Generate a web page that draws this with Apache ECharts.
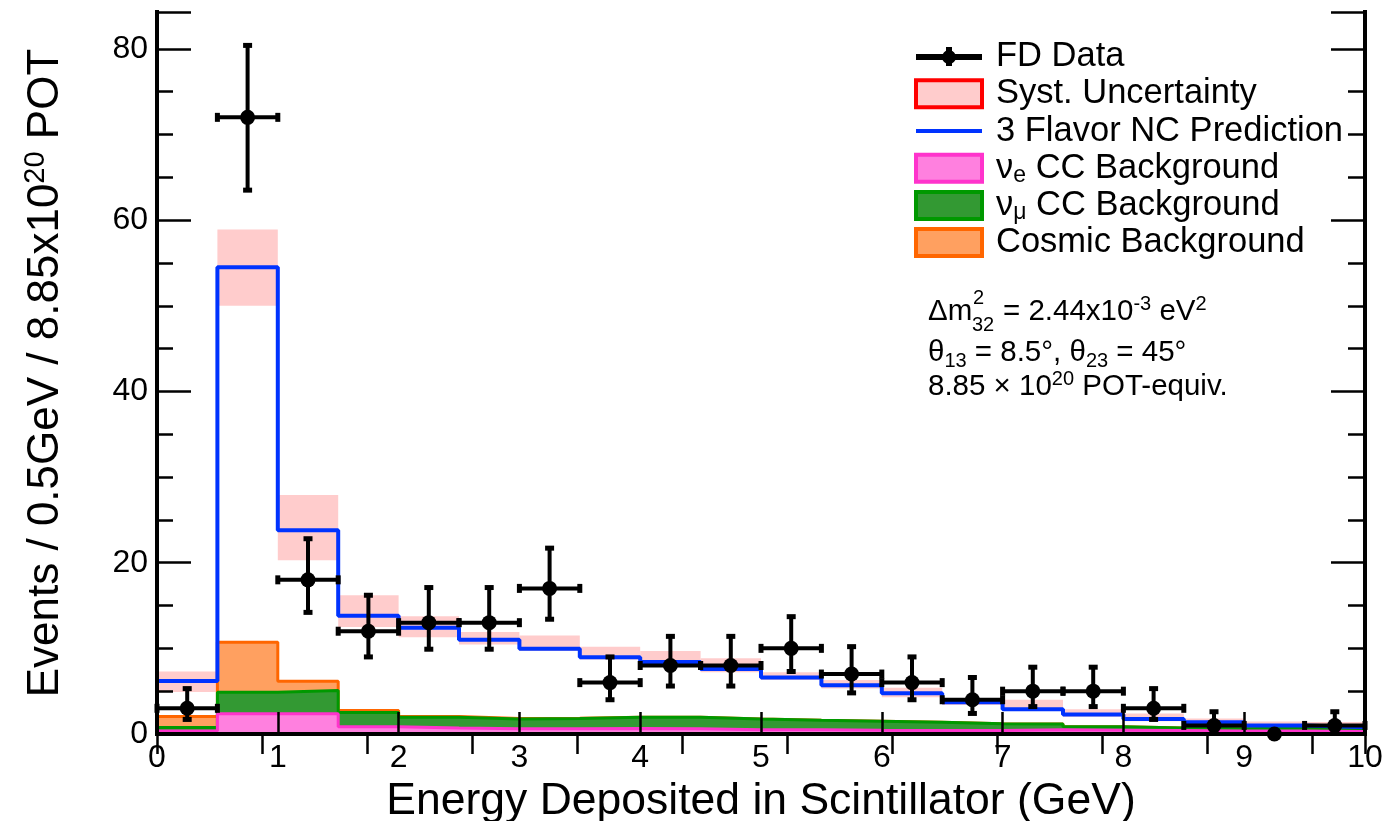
<!DOCTYPE html>
<html><head><meta charset="utf-8">
<script src="https://cdn.jsdelivr.net/npm/echarts@6/dist/echarts.min.js"></script>
<style>html,body{margin:0;padding:0;background:#fff}#chart{width:1387px;height:821px}</style>
</head><body><div id="chart"></div>
<script>
// ---------------- data ----------------
const binEdges = [0,0.5,1,1.5,2,2.5,3,3.5,4,4.5,5,5.5,6,6.5,7,7.5,8,8.5,9,9.5,10];
const binCenters = [0.25,0.75,1.25,1.75,2.25,2.75,3.25,3.75,4.25,4.75,5.25,5.75,6.25,6.75,7.25,7.75,8.25,8.75,9.25,9.75];
const fdData    = [3,72,18,12,13,13,17,6,8,8,10,7,6,4,5,5,3,1,0,1];
const fdErrLow  = [1.7,63.5,14.2,9.0,9.9,9.9,13.4,4.0,5.6,5.6,7.3,4.8,4.0,2.4,3.2,3.2,1.7,0.4,0,0.4];
const fdErrHigh = [5.3,80.4,22.8,16.2,17.1,17.1,21.7,9.0,11.4,11.4,13.7,10.2,9.0,6.6,7.8,7.8,5.3,2.6,0,2.6];
const fdXErr    = [0.25,0.25,0.25,0.25,0.25,0.25,0.25,0.25,0.25,0.25,0.25,0.25,0.25,0.25,0.25,0.25,0.25,0.25,0,0.25];
const ncPrediction = [6.2,54.5,23.8,13.8,12.4,11.0,9.95,8.95,8.4,7.6,6.6,5.7,4.75,3.7,2.9,2.27,1.76,1.37,0.98,0.8];
const systLow  = [4.9,50.0,20.3,12.5,11.3,10.45,9.7,8.7,7.9,7.2,6.3,5.3,4.3,3.4,2.7,2.0,1.5,1.2,0.8,0.6];
const systHigh = [7.3,58.9,27.9,16.2,13.75,11.9,11.5,10.2,9.7,8.85,7.2,6.3,5.4,4.1,4.0,2.9,2.4,1.8,1.45,1.4];
const nueCC    = [0.35,2.35,2.35,0.86,0.7,0.6,0.6,0.65,0.6,0.5,0.5,0.45,0.42,0.4,0.5,0.45,0.4,0.35,0.35,0.3];
const numuCC   = [0.4,2.52,2.72,1.64,1.25,1.16,1.2,1.3,1.35,1.25,1.1,1.05,0.95,0.8,0.68,0.41,0.3,0.25,0.35,0.2];
const cosmicBg = [1.3,5.83,1.09,0.23,0.08,0.05,0.03,0,0,0,0,0,0,0,0,0,0,0,0,0];
const xTickLabels = ['0','1','2','3','4','5','6','7','8','9','10'];
const yTickLabels = ['0','20','40','60','80'];

// ---------------- helpers ----------------
const FONT = '"Liberation Sans", Arial, Helvetica, sans-serif';
function stepData(vals){
  const d = vals.map((v,i)=>[binEdges[i], v]);
  d.push([binEdges[vals.length], vals[vals.length-1]]);
  return d;
}
const cumNue = nueCC.slice();
const cumNumu = nueCC.map((v,i)=>v+numuCC[i]);
const cumCosmic = cumNumu.map((v,i)=>v+cosmicBg[i]);
const systRows = systLow.map((lo,i)=>[binEdges[i], binEdges[i+1], lo, systHigh[i]]);
const dataRows = fdData.map((y,i)=>[binCenters[i], y, fdErrLow[i], fdErrHigh[i], fdXErr[i]]);

const YMAX = 84.3;
const tickStyle = {color:'#000', width:2.5};
const frameLine = {show:true, lineStyle:{color:'#000', width:4, cap:'square'}};

const legendLabels = {
  'FD Data': '{f|FD Data}',
  'Syst. Uncertainty': '{f|Syst. Uncertainty}',
  '3 Flavor NC Prediction': '{f|3 Flavor NC Prediction}',
  'νe CC Background': '{f|ν}{sub|e}{a| CC Background}',
  'νμ CC Background': '{f|ν}{sub|μ}{a| CC Background}',
  'Cosmic Background': '{f|Cosmic Background}'
};
const LH = 37.2;
const LFS = 34.5;
const AFS = 29.5;
const chart = echarts.init(document.getElementById('chart'), null, {renderer:'canvas'});
const option = {
  animation:false,
  backgroundColor:'#fff',
  grid:{left:157, top:12, width:1208, height:722, containLabel:false, outerBoundsMode:'none'},
  xAxis:[
    {type:'value', position:'bottom', min:0, max:10, interval:1, z:10,
     axisLine:frameLine, splitLine:{show:false},
     axisTick:{show:true, inside:true, length:22, lineStyle:tickStyle},
     axisLabel:{show:true, margin:8, color:'#000', fontFamily:FONT, fontSize:32,
       formatter:(v)=>{const i=Math.round(v); return (Math.abs(v-i)<1e-6 && xTickLabels[i]!==undefined)? xTickLabels[i] : '';}},
     name:'Energy Deposited in Scintillator (GeV)', nameLocation:'middle', nameGap:39,
     nameTextStyle:{color:'#000', fontFamily:FONT, fontSize:44.5}},
    {type:'value', position:'top', min:0, max:11.5, interval:1, z:10,
     axisLine:frameLine, splitLine:{show:false},
     axisTick:{show:true, inside:true, length:20, lineStyle:tickStyle},
     axisLabel:{show:false}}
  ],
  yAxis:[
    {type:'value', position:'left', min:0, max:YMAX, interval:5, z:10,
     axisLine:frameLine, splitLine:{show:false},
     axisTick:{show:true, inside:true, length:16, lineStyle:tickStyle},
     axisLabel:{show:true, margin:9, color:'#000', fontFamily:FONT, fontSize:32,
       formatter:(v)=>{ if (Math.abs(v/20 - Math.round(v/20))>1e-6) return ''; return yTickLabels[Math.round(v/20)] || ''; }},
     name:'{a|Events / 0.5GeV / 8.85x10}{sup|20}{a| POT}', nameLocation:'middle', nameGap:86,
     nameTextStyle:{color:'#000', fontFamily:FONT, fontSize:44,
       rich:{a:{fontFamily:FONT, fontSize:44, color:'#000', lineHeight:50},
             sup:{fontFamily:FONT, fontSize:29, color:'#000', verticalAlign:'top', lineHeight:29}}}},
    {type:'value', position:'left', min:0, max:YMAX, interval:20, z:10,
     axisLine:{show:false}, splitLine:{show:false},
     axisTick:{show:true, inside:true, length:34, lineStyle:tickStyle}, axisLabel:{show:false}},
    {type:'value', position:'right', min:0, max:YMAX, interval:5, z:10,
     axisLine:frameLine, splitLine:{show:false},
     axisTick:{show:true, inside:true, length:17, lineStyle:tickStyle}, axisLabel:{show:false}},
    {type:'value', position:'right', min:0, max:YMAX, interval:20, z:10,
     axisLine:{show:false}, splitLine:{show:false},
     axisTick:{show:true, inside:true, length:34, lineStyle:tickStyle}, axisLabel:{show:false}}
  ],
  legend:{
    orient:'vertical', left:914, top:38, itemWidth:66, itemHeight:27, itemGap:0,
    selectedMode:false, padding:0,
    formatter:(name)=>legendLabels[name] || name,
    textStyle:{color:'#000', fontFamily:FONT, fontSize:LFS, lineHeight:LH,
      rich:{
        f:{fontFamily:FONT, fontSize:LFS, color:'#000', lineHeight:LH, padding:[0,0,0,9]},
        a:{fontFamily:FONT, fontSize:LFS, color:'#000', lineHeight:LH},
        sub:{fontFamily:FONT, fontSize:23, color:'#000', verticalAlign:'bottom', lineHeight:22}
      }},
    data:[
      {name:'FD Data',
       icon:'path://M0,0L0,0ZM66,27L66,27ZM0,11L66,11L66,17L0,17ZM30,4L36,4L36,23L30,23ZM26,14A7,7 0 1 1 40,14A7,7 0 1 1 26,14Z',
       itemStyle:{color:'#000', borderWidth:0}},
      {name:'Syst. Uncertainty', icon:'rect', itemStyle:{color:'#ffcccc', borderColor:'#ff0000', borderWidth:4}},
      {name:'3 Flavor NC Prediction', icon:'path://M0,0L0,0ZM66,27L66,27ZM0,11.5L66,11.5L66,15.5L0,15.5Z',
       itemStyle:{color:'#0033ff', borderWidth:0}},
      {name:'νe CC Background', icon:'rect', itemStyle:{color:'#ff80df', borderColor:'#ff33cc', borderWidth:4}},
      {name:'νμ CC Background', icon:'rect', itemStyle:{color:'#339933', borderColor:'#009900', borderWidth:4}},
      {name:'Cosmic Background', icon:'rect', itemStyle:{color:'#ffa060', borderColor:'#ff6600', borderWidth:4}}
    ]
  },
  graphic:[
    {type:'text', x:928, y:312, z:20, style:{text:'Δm', fill:'#000', fontFamily:FONT, fontSize:AFS, verticalAlign:'middle', align:'left'}},
    {type:'text', x:973, y:298, z:20, style:{text:'2', fill:'#000', fontFamily:FONT, fontSize:20, verticalAlign:'middle', align:'left'}},
    {type:'text', x:972, y:325, z:20, style:{text:'32', fill:'#000', fontFamily:FONT, fontSize:20, verticalAlign:'middle', align:'left'}},
    {type:'text', x:1003, y:312, z:20, style:{text:'{a|= 2.44x10}{sup|-3}{a| eV}{sup|2}', fill:'#000', fontFamily:FONT, fontSize:AFS, verticalAlign:'middle', align:'left',
      rich:{a:{fontFamily:FONT, fontSize:AFS, lineHeight:36, fill:'#000'}, sup:{fontFamily:FONT, fontSize:20, verticalAlign:'top', lineHeight:20, fill:'#000'}}}},
    {type:'text', x:928, y:353, z:20, style:{text:'{a|θ}{sub|13}{a| = 8.5°, θ}{sub|23}{a| = 45°}', fill:'#000', fontFamily:FONT, fontSize:AFS, verticalAlign:'middle', align:'left',
      rich:{a:{fontFamily:FONT, fontSize:AFS, lineHeight:36, fill:'#000'}, sub:{fontFamily:FONT, fontSize:20, verticalAlign:'bottom', lineHeight:20, fill:'#000'}}}},
    {type:'text', x:928, y:387, z:20, style:{text:'{a|8.85 × 10}{sup|20}{a| POT-equiv.}', fill:'#000', fontFamily:FONT, fontSize:AFS, verticalAlign:'middle', align:'left',
      rich:{a:{fontFamily:FONT, fontSize:AFS, lineHeight:36, fill:'#000'}, sup:{fontFamily:FONT, fontSize:20, verticalAlign:'top', lineHeight:20, fill:'#000'}}}}
  ],
  series:[
    {name:'Syst. Uncertainty', type:'custom', z:1, xAxisIndex:0, yAxisIndex:0,
     data:systRows, encode:{x:[0,1], y:[2,3]}, itemStyle:{color:'#ffcccc'},
     renderItem:(params, api)=>{
       const p1 = api.coord([api.value(0), api.value(3)]);
       const p2 = api.coord([api.value(1), api.value(2)]);
       return {type:'rect', shape:{x:p1[0], y:p1[1], width:p2[0]-p1[0], height:p2[1]-p1[1]},
               style:{fill:'#ffcccc'}};
     }},
    {name:'Cosmic Background', type:'line', z:2, step:'end', showSymbol:false, symbol:'none',
     data:stepData(cumCosmic), lineStyle:{color:'#ff6600', width:3}, itemStyle:{color:'#ffa060'},
     areaStyle:{color:'#ffa060', opacity:1}},
    {name:'νμ CC Background', type:'line', z:3, step:'end', showSymbol:false, symbol:'none',
     data:stepData(cumNumu), lineStyle:{color:'#009900', width:3}, itemStyle:{color:'#339933'},
     areaStyle:{color:'#339933', opacity:1}},
    {name:'νe CC Background', type:'line', z:4, step:'end', showSymbol:false, symbol:'none',
     data:stepData(cumNue), lineStyle:{color:'#ff33cc', width:3}, itemStyle:{color:'#ff80df'},
     areaStyle:{color:'#ff80df', opacity:1}},
    {name:'3 Flavor NC Prediction', type:'line', z:5, step:'end', showSymbol:false, symbol:'none',
     data:stepData(ncPrediction), lineStyle:{color:'#0033ff', width:4}, itemStyle:{color:'#0033ff'}},
    {name:'FD Data', type:'custom', z:6, xAxisIndex:0, yAxisIndex:0,
     data:dataRows, encode:{x:0, y:[1,2,3]}, itemStyle:{color:'#000'},
     renderItem:(params, api)=>{
       const x = api.value(0), y = api.value(1), lo = api.value(2), hi = api.value(3), hw = api.value(4);
       const c = api.coord([x, y]);
       const children = [];
       const st = {stroke:'#000', lineWidth:4};
       if (hi > lo) {
         const pl = api.coord([x, lo]), ph = api.coord([x, hi]);
         children.push({type:'line', shape:{x1:c[0], y1:pl[1], x2:c[0], y2:ph[1]}, style:st});
         children.push({type:'rect', shape:{x:c[0]-4.5, y:ph[1]-2.5, width:9, height:5}, style:{fill:'#000'}});
         children.push({type:'rect', shape:{x:c[0]-4.5, y:pl[1]-2.5, width:9, height:5}, style:{fill:'#000'}});
       }
       if (hw > 0) {
         const pL = api.coord([x-hw, y]), pR = api.coord([x+hw, y]);
         children.push({type:'line', shape:{x1:pL[0], y1:c[1], x2:pR[0], y2:c[1]}, style:st});
         children.push({type:'rect', shape:{x:pL[0]-2.5, y:c[1]-4.5, width:5, height:9}, style:{fill:'#000'}});
         children.push({type:'rect', shape:{x:pR[0]-2.5, y:c[1]-4.5, width:5, height:9}, style:{fill:'#000'}});
       }
       children.push({type:'circle', shape:{cx:c[0], cy:c[1], r:7.5}, style:{fill:'#000'}});
       return {type:'group', children};
     }}
  ]
};
chart.setOption(option);
</script>
</body></html>
